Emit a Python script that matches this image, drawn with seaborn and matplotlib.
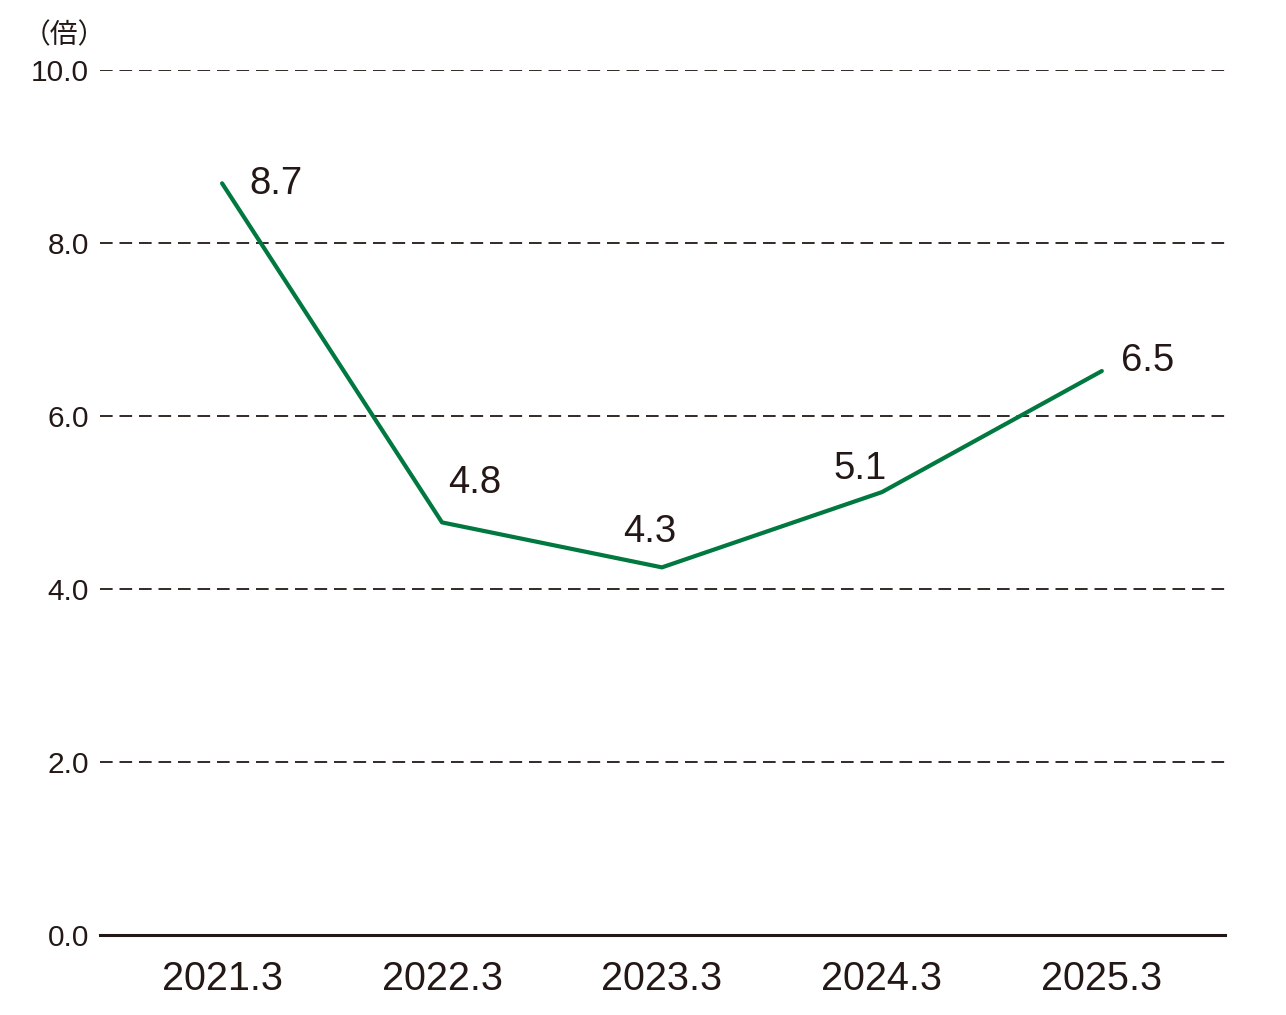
import matplotlib
matplotlib.use("Agg")
import matplotlib.pyplot as plt
import pandas as pd
import seaborn as sns

# values (line heights), with the printed labels
periods = ["2021.3", "2022.3", "2023.3", "2024.3", "2025.3"]
ratio = [8.69, 4.77, 4.25, 5.12, 6.52]
labels = ["8.7", "4.8", "4.3", "5.1", "6.5"]
y_ticks = [0, 2, 4, 6, 8, 10]

data = pd.DataFrame({"Period": periods, "Ratio": ratio})
data["pos"] = range(len(data))

INK = "#231815"
GREEN = "#007840"

sns.set_style("white")
plt.rcParams["font.family"] = ["Liberation Sans", "Noto Sans CJK JP", "DejaVu Sans"]

fig = plt.figure(figsize=(12.86, 10.15), dpi=100)
ax = fig.add_axes([100 / 1286, 1 - 935 / 1015, 1125 / 1286, 865 / 1015])

for t in y_ticks[1:]:
    ax.axhline(t, color=INK, lw=1.3, linestyle=(0, (7, 3.8)), zorder=1)

sns.lineplot(data=data, x="pos", y="Ratio", color=GREEN, linewidth=3.0, ax=ax, zorder=3)

# label offsets in pixels
offsets = [(54, -1), (33, 39), (-12, 35), (-22, 23), (46, 10)]
for i, (lab, off) in enumerate(zip(labels, offsets)):
    ax.annotate(lab, (data["pos"][i], data["Ratio"][i]), xytext=off,
                textcoords="offset pixels", ha="center", va="center",
                fontsize=27.5, color=INK)

ax.set_xlim(-0.555, 4.56)
ax.set_ylim(0, 10)
ax.set_xticks(data["pos"])
ax.set_xticklabels(periods, fontsize=28.5, color=INK)
ax.set_yticks(y_ticks)
ax.set_yticklabels([f"{v:.1f}" for v in y_ticks], fontsize=21.5, color=INK)
ax.tick_params(axis="both", length=0)
ax.tick_params(axis="x", pad=18)
ax.tick_params(axis="y", pad=8)
ax.set_xlabel("")
ax.set_ylabel("")

for side in ["top", "right", "left"]:
    ax.spines[side].set_visible(False)
ax.spines["bottom"].set_color(INK)
ax.spines["bottom"].set_linewidth(2.2)

fig.text(64 / 1286, 1 - 35 / 1015, "（倍）", ha="center", va="center",
         fontsize=20, color=INK, family=["Noto Sans CJK JP", "DejaVu Sans"])

fig.savefig("out.png", dpi=100, facecolor="white")
